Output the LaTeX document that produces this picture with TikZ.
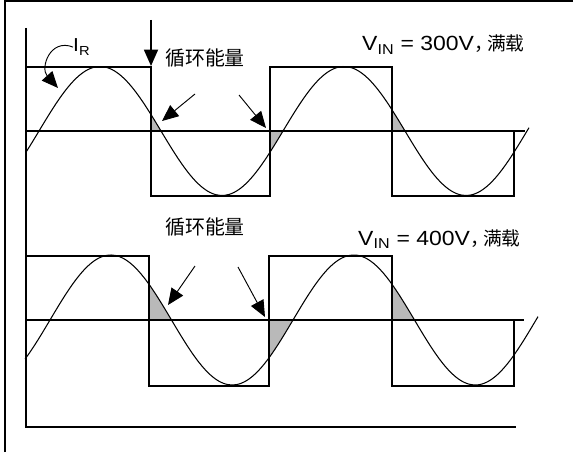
\documentclass[tikz,border=0pt]{standalone}
\usepackage{fontspec}
\setmainfont{Liberation Sans}[FakeStretch=1.12]
\newfontfamily\cjk{Noto Sans CJK SC}
\usetikzlibrary{arrows.meta}

\begin{document}
\begin{tikzpicture}[x=0.03cm, y=-0.03cm,
    declare function={wa(\t)=131-64.5*sin((\t-39)/122*180); wb(\t)=320-65*sin((\t-50)/121.5*180);},
    wave/.style={line width=2.4pt},
    sig/.style={line width=0.9pt, smooth},
    arr/.style={-{Triangle[length=14pt, width=12pt]}, line width=0.8pt},
    lbl/.style={font=\fontsize{17.5}{20}\selectfont, inner sep=0pt},
    energy/.style={font=\fontsize{17}{20}\selectfont\cjk, inner sep=0pt},
    zone/.style={fill=gray!55},
  ]
  \useasboundingbox (0,0) rectangle (573,452);
  \draw[wave] (5,452) -- (5,1) -- (573,1);
  \draw[wave] (26,28) -- (26,427) -- (516,427);

  \fill[zone] (151,131) -- plot[domain=151:161, samples=8] (\x,{wa(\x)}) -- cycle;
  \fill[zone] (270,131) -- plot[domain=270:283, samples=8] (\x,{wa(\x)}) -- cycle;
  \fill[zone] (392,131) -- plot[domain=392:405, samples=8] (\x,{wa(\x)}) -- cycle;
  \fill[zone] (149,320) -- plot[domain=149:171.5, samples=10] (\x,{wb(\x)}) -- cycle;
  \fill[zone] (269,320) -- plot[domain=269:293, samples=10] (\x,{wb(\x)}) -- cycle;
  \fill[zone] (392,320) -- plot[domain=392:414.5, samples=10] (\x,{wb(\x)}) -- cycle;

  \draw[wave] (26,131) -- (525,131);
  \draw[wave] (26,67) -- (151,67) -- (151,196) -- (270,196) -- (270,67) -- (392,67) -- (392,196) -- (514,196) -- (514,131);
  \draw[sig] plot[domain=26:529, samples=120] (\x,{wa(\x)});

  \draw[wave] (26,320) -- (524,320);
  \draw[wave] (26,256) -- (149,256) -- (149,386) -- (269,386) -- (269,256) -- (392,256) -- (392,386) -- (514,386) -- (514,320);
  \draw[sig] plot[domain=25:538, samples=120] (\x,{wb(\x)});

  \node[lbl, font=\fontsize{16}{18}\selectfont, anchor=base west] (ir) at (73,52) {I\textsubscript{R}};
  \node[energy] (energyA) at (205,58) {循环能量};
  \node[lbl, anchor=base west] (vinA) at (362,51) {V\textsubscript{IN} = 300V{\cjk\fontsize{16}{18}\selectfont ，\kern-0.3em满载}};
  \node[energy] (energyB) at (205,227) {循环能量};
  \node[lbl, anchor=base west] (vinB) at (358,245) {V\textsubscript{IN} = 400V{\cjk\fontsize{16}{18}\selectfont ，\kern-0.3em满载}};

  \coordinate (irTip) at (58,88);
  \coordinate (edgeTop) at (151,20);
  \coordinate (edgeTip) at (151,66);
  \coordinate (a1) at (195,94);
  \coordinate (a1Tip) at (162,121);
  \coordinate (a2) at (239,95);
  \coordinate (a2Tip) at (266,128);
  \coordinate (b1) at (195,266);
  \coordinate (b1Tip) at (168,305);
  \coordinate (b2) at (238,267);
  \coordinate (b2Tip) at (265,317);

  \draw[arr] (ir.west) .. controls (50,38) and (40,68) .. (irTip);
  \draw[arr, line width=1.4pt] (edgeTop) -- (edgeTip);
  \draw[arr] (a1) -- (a1Tip);
  \draw[arr] (a2) -- (a2Tip);
  \draw[arr] (b1) -- (b1Tip);
  \draw[arr] (b2) -- (b2Tip);
\end{tikzpicture}
\end{document}
